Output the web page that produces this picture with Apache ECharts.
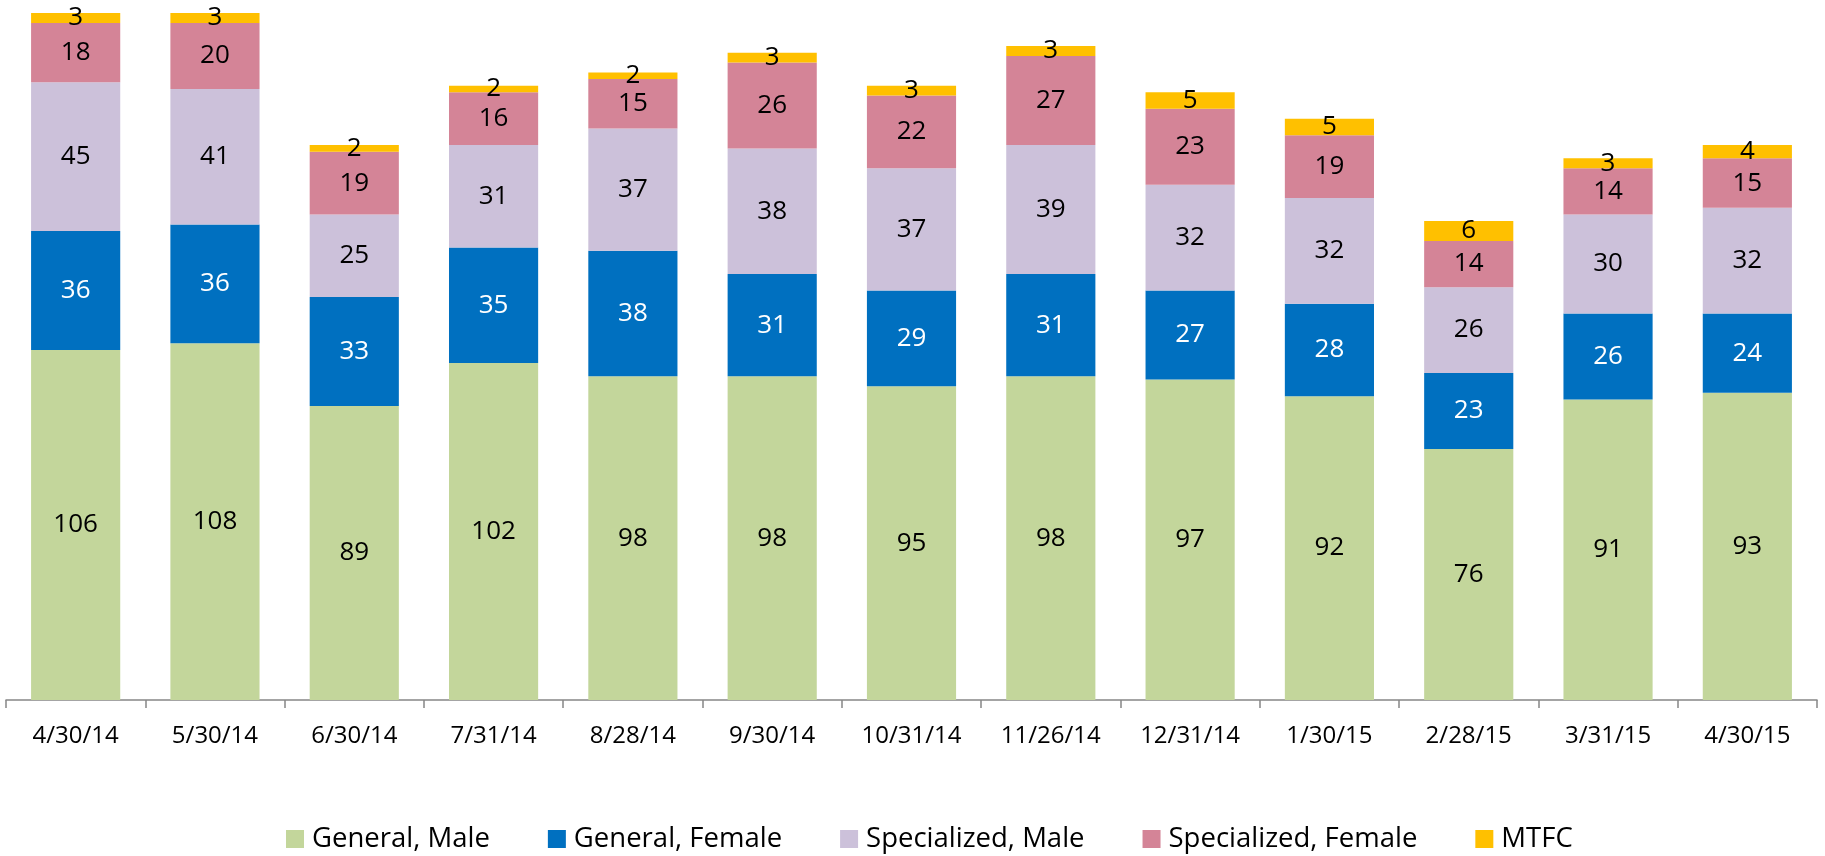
<!DOCTYPE html>
<html>
<head>
<meta charset="utf-8">
<script src="https://cdn.jsdelivr.net/npm/echarts@6/dist/echarts.min.js"></script>
<style>
  html, body { margin: 0; padding: 0; background: #fff; }
  #chart { width: 1825px; height: 856px; }
</style>
</head>
<body>
<div id="chart"></div>
<script>
// Monthly placement counts by program type
const dates = ['4/30/14', '5/30/14', '6/30/14', '7/31/14', '8/28/14', '9/30/14', '10/31/14',
               '11/26/14', '12/31/14', '1/30/15', '2/28/15', '3/31/15', '4/30/15'];
const generalMale       = [106, 108, 89, 102, 98, 98, 95, 98, 97, 92, 76, 91, 93];
const generalFemale     = [36, 36, 33, 35, 38, 31, 29, 31, 27, 28, 23, 26, 24];
const specializedMale   = [45, 41, 25, 31, 37, 38, 37, 39, 32, 32, 26, 30, 32];
const specializedFemale = [18, 20, 19, 16, 15, 26, 22, 27, 23, 19, 14, 14, 15];
const mtfc              = [3, 3, 2, 2, 2, 3, 3, 3, 5, 5, 6, 3, 4];

const FONT = '"Open Sans", sans-serif';

const seriesDefs = [
  { name: 'General, Male',       data: generalMale,       color: '#C3D69B', text: '#000' },
  { name: 'General, Female',     data: generalFemale,     color: '#0070C0', text: '#fff' },
  { name: 'Specialized, Male',   data: specializedMale,   color: '#CCC1DA', text: '#000' },
  { name: 'Specialized, Female', data: specializedFemale, color: '#D48497', text: '#000' },
  { name: 'MTFC',                data: mtfc,              color: '#FFC000', text: '#000' }
];

const chart = echarts.init(document.getElementById('chart'), null, { renderer: 'canvas' });

chart.setOption({
  animation: false,
  backgroundColor: '#fff',
  grid: { left: 6, right: 8, top: 6.4, bottom: 156, containLabel: false },
  legend: {
    top: 825,
    left: 286,
    padding: 0,
    itemWidth: 18,
    itemHeight: 18,
    itemGap: 58,
    icon: 'rect',
    textStyle: { fontFamily: FONT, fontSize: 27.5, lineHeight: 28, color: '#000', padding: [0, 0, 0, 3] },
    data: seriesDefs.map(s => s.name)
  },
  xAxis: {
    type: 'category',
    data: dates,
    boundaryGap: true,
    axisLine: { show: true, lineStyle: { color: '#868686', width: 1.5 } },
    axisTick: { show: true, length: 8, lineStyle: { color: '#868686', width: 1.5 } },
    axisLabel: { fontFamily: FONT, fontSize: 24, color: '#000', margin: 24 }
  },
  yAxis: {
    type: 'value',
    min: 0,
    max: 210,
    show: false,
    splitLine: { show: false }
  },
  series: seriesDefs.map(s => ({
    name: s.name,
    type: 'bar',
    stack: 'total',
    barCategoryGap: '36%',
    data: s.data,
    itemStyle: { color: s.color },
    label: {
      show: true,
      position: 'inside',
      fontFamily: FONT,
      fontSize: 26,
      color: s.text
    }
  }))
});
</script>
</body>
</html>
